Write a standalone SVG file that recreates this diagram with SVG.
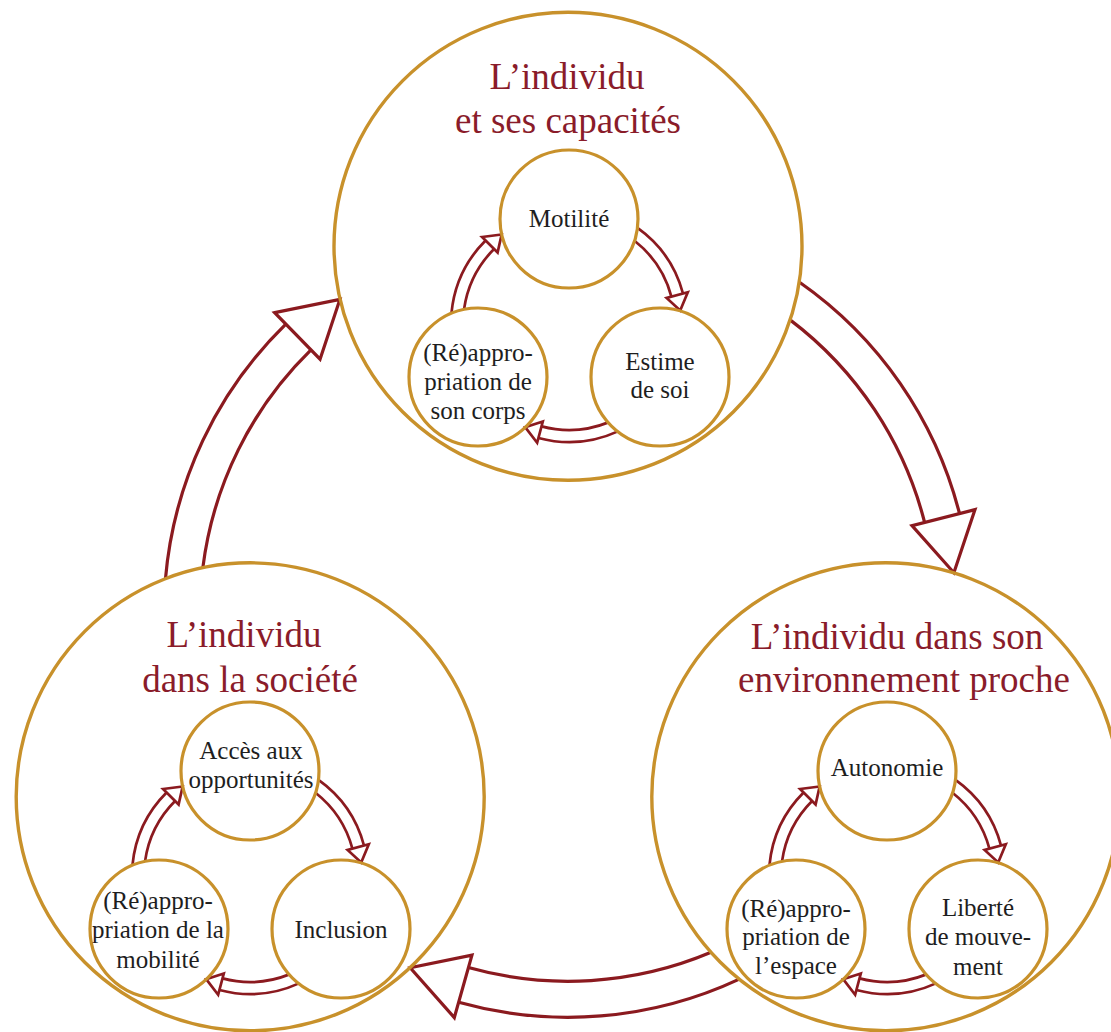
<svg xmlns="http://www.w3.org/2000/svg" xmlns:xlink="http://www.w3.org/1999/xlink" width="1111" height="1032" viewBox="0 0 1111 1032">
  <style>
    .big { fill: none; stroke: #C8912B; stroke-width: 3.4; }
    .inner { fill: none; stroke: #C8912B; stroke-width: 3.2; }
    .title { font-family: "Liberation Serif", "DejaVu Serif", serif; font-size: 37px; fill: #8A1C2A; text-anchor: middle; }
    .lbl { font-family: "Liberation Serif", "DejaVu Serif", serif; font-size: 25px; fill: #1E1E1E; text-anchor: middle; }
    .shaft { fill: none; stroke: #8B1A1F; }
    .head { fill: #FFFFFF; stroke: #8B1A1F; stroke-linejoin: miter; }
    .ab { stroke-width: 3.2; }
    .as { stroke-width: 2.7; }
  </style>
  <defs>
    <g id="bigArrow">
      <path class="shaft ab" d="M 231.2,-331.3 A 404 404 0 0 1 391.5,-99.8 M 356.6,-90.9 A 368 368 0 0 0 222.1,-293.4"/>
      <path class="head ab" d="M 407.0,-103.7 L 385.9,-40.6 L 344.0,-87.7 Z"/>
    </g>
    <g id="smallArrow">
      <path class="shaft as" d="M 68.5,-96.1 A 118 118 0 0 1 114.0,-30.5 M 102.4,-27.4 A 106 106 0 0 0 65.5,-83.3"/>
      <path class="head as" d="M 118.8,-31.8 L 111.2,-13.6 L 97.6,-26.1 Z"/>
    </g>
  </defs>
  <rect x="0" y="0" width="1111" height="1032" fill="#FFFFFF"/>

  <g id="connectors">
    <use xlink:href="#bigArrow" href="#bigArrow" transform="translate(568 613.3)"/>
    <use xlink:href="#bigArrow" href="#bigArrow" transform="translate(568 613.3) rotate(120)"/>
    <use xlink:href="#bigArrow" href="#bigArrow" transform="translate(568 613.3) rotate(240)"/>
    <use xlink:href="#smallArrow" href="#smallArrow" transform="translate(569 324)"/>
    <use xlink:href="#smallArrow" href="#smallArrow" transform="translate(569 324) rotate(120)"/>
    <use xlink:href="#smallArrow" href="#smallArrow" transform="translate(569 324) rotate(240)"/>
    <use xlink:href="#smallArrow" href="#smallArrow" transform="translate(250 876)"/>
    <use xlink:href="#smallArrow" href="#smallArrow" transform="translate(250 876) rotate(120)"/>
    <use xlink:href="#smallArrow" href="#smallArrow" transform="translate(250 876) rotate(240)"/>
    <use xlink:href="#smallArrow" href="#smallArrow" transform="translate(887 876)"/>
    <use xlink:href="#smallArrow" href="#smallArrow" transform="translate(887 876) rotate(120)"/>
    <use xlink:href="#smallArrow" href="#smallArrow" transform="translate(887 876) rotate(240)"/>
  </g>

  <g id="node-capacites">
    <circle class="big" cx="568" cy="246.3" r="234"/>
    <text class="title" x="567" y="89">L’individu</text>
    <text class="title" x="568" y="133">et ses capacités</text>
  </g>
  <g id="node-societe">
    <circle class="big" cx="250.2" cy="796.8" r="234"/>
    <text class="title" x="244" y="647">L’individu</text>
    <text class="title" x="250" y="692">dans la société</text>
  </g>
  <g id="node-environnement">
    <circle class="big" cx="885.8" cy="796.8" r="234"/>
    <text class="title" x="897" y="649">L’individu dans son</text>
    <text class="title" x="904" y="692">environnement proche</text>
  </g>

  <g id="node-motilite">
    <circle class="inner" cx="569" cy="219" r="69"/>
    <text class="lbl" x="569" y="227">Motilité</text>
  </g>
  <g id="node-estime">
    <circle class="inner" cx="660" cy="377" r="69"/>
    <text class="lbl" x="660" y="370">Estime</text>
    <text class="lbl" x="660" y="398">de soi</text>
  </g>
  <g id="node-corps">
    <circle class="inner" cx="478" cy="377" r="69"/>
    <text class="lbl" x="478" y="361">(Ré)appro-</text>
    <text class="lbl" x="478" y="390">priation de</text>
    <text class="lbl" x="478" y="419">son corps</text>
  </g>

  <g id="node-acces">
    <circle class="inner" cx="250" cy="771" r="69"/>
    <text class="lbl" x="251" y="759">Accès aux</text>
    <text class="lbl" x="251" y="788">opportunités</text>
  </g>
  <g id="node-inclusion">
    <circle class="inner" cx="341" cy="929" r="69"/>
    <text class="lbl" x="341" y="938">Inclusion</text>
  </g>
  <g id="node-mobilite">
    <circle class="inner" cx="159" cy="929" r="69"/>
    <text class="lbl" x="158" y="909">(Ré)appro-</text>
    <text class="lbl" x="158" y="938">priation de la</text>
    <text class="lbl" x="158" y="968">mobilité</text>
  </g>

  <g id="node-autonomie">
    <circle class="inner" cx="887" cy="771" r="69"/>
    <text class="lbl" x="887" y="776">Autonomie</text>
  </g>
  <g id="node-liberte">
    <circle class="inner" cx="978" cy="929" r="69"/>
    <text class="lbl" x="978" y="916">Liberté</text>
    <text class="lbl" x="978" y="945">de mouve-</text>
    <text class="lbl" x="978" y="975">ment</text>
  </g>
  <g id="node-espace">
    <circle class="inner" cx="796" cy="929" r="69"/>
    <text class="lbl" x="796" y="917">(Ré)appro-</text>
    <text class="lbl" x="796" y="945">priation de</text>
    <text class="lbl" x="796" y="974">l’espace</text>
  </g>
</svg>
